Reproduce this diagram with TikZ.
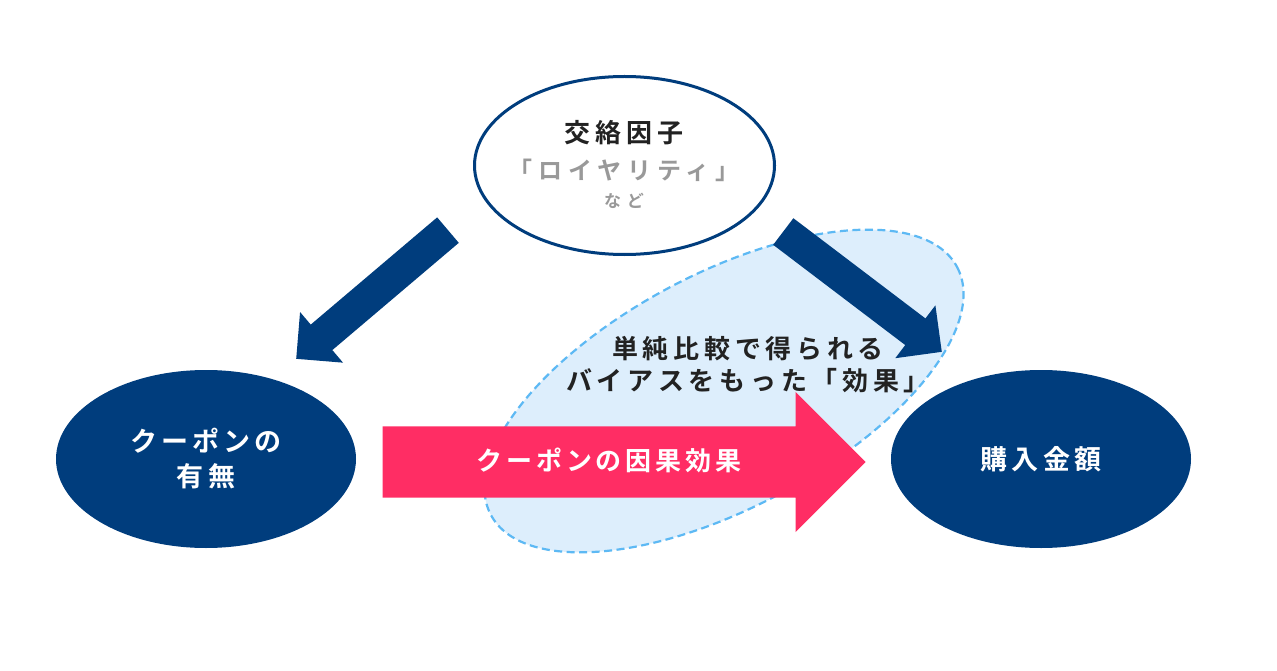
\documentclass[tikz,border=0pt]{standalone}
\usepackage{fontspec}
\newfontfamily\jpnarrow[LetterSpace=15]{Noto Sans CJK JP Bold}
\newfontfamily\jpmid[LetterSpace=18]{Noto Sans CJK JP Bold}
\newfontfamily\jpgray[LetterSpace=25]{Noto Sans CJK JP Bold}
\newfontfamily\jpwide[LetterSpace=33]{Noto Sans CJK JP Bold}
\usetikzlibrary{shapes.geometric,shapes.arrows}
\definecolor{navyblue}{HTML}{003D7D}
\definecolor{causepink}{HTML}{FF2D64}
\definecolor{biasfill}{HTML}{DDEEFC}
\definecolor{biasline}{HTML}{5DB9F4}
\definecolor{darktext}{HTML}{222222}
\definecolor{graytext}{HTML}{999999}

\begin{document}
\begin{tikzpicture}[x=1pt,y=-1pt,
    varnode/.style={ellipse,minimum width=300pt,minimum height=178pt,inner sep=0pt,
      text=white,align=center,font=\fontsize{27pt}{35pt}\jpnarrow},
    fatarrow/.style={single arrow,fill=navyblue,inner xsep=0pt,inner ysep=16.5pt,
      single arrow head extend=16.5pt,minimum height=199pt,anchor=tip}]
    \useasboundingbox[fill=white] (0,0) rectangle (1277,671);
    % biased comparison
    \draw[biasline,fill=biasfill,line width=2.2pt,dash pattern=on 8pt off 4.5pt,
      rotate around={28:(724,391)}] (724,391) ellipse [x radius=264,y radius=117];
    \node[text=darktext,align=center,font=\fontsize{26pt}{32pt}\jpmid] (biastext) at (748,365)
      {単純比較で得られる\\バイアスをもった「効果」};
    % confounder
    \node[varnode,draw=navyblue,line width=3pt,fill=white] (conf) at (624.5,165.5) {};
    \node[text=darktext,font=\fontsize{26pt}{26pt}\jpmid] (conftitle) at (624,133) {交絡因子};
    \node[text=graytext,font=\fontsize{24pt}{24pt}\jpgray] (confname) at (624,170) {「ロイヤリティ」};
    \node[text=graytext,font=\fontsize{17pt}{17pt}\jpwide] (confetc) at (624,201) {など};
    \node[fatarrow,rotate=220.3] (arrowL) at (296,359) {};
    \node[fatarrow,rotate=-37.2] (arrowR) at (942,352) {};
    % treatment and outcome
    \node[varnode,fill=navyblue] (coupon) at (206,459) {クーポンの\\有無};
    \node[varnode,fill=navyblue] (amount) at (1041,459) {購入金額};
    \node[single arrow,fill=causepink,inner xsep=0pt,inner ysep=35.5pt,
      single arrow head extend=34.5pt,minimum height=483pt,anchor=tip] (cause) at (866,462) {};
    \node[text=white,font=\fontsize{26pt}{26pt}\jpnarrow] (causetext) at (609,460) {クーポンの因果効果};
\end{tikzpicture}
\end{document}
